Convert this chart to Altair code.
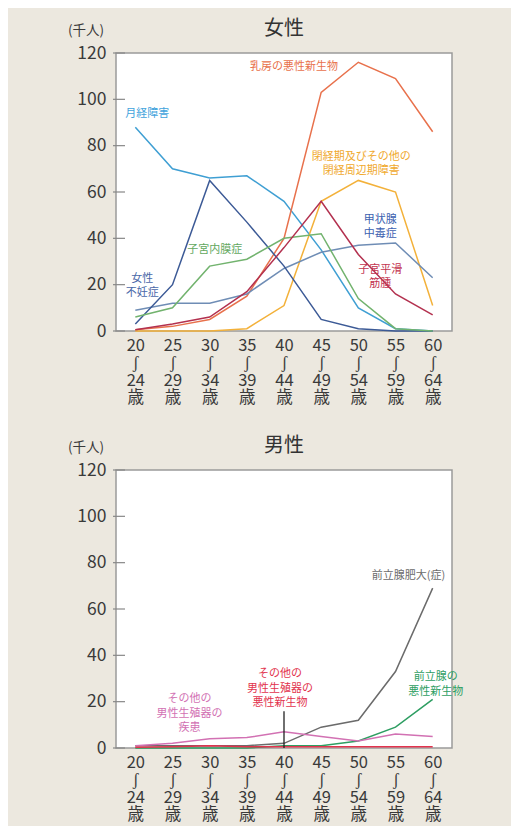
import altair as alt
import pandas as pd

ages = ["20-24", "25-29", "30-34", "35-39", "40-44", "45-49", "50-54", "55-59", "60-64"]
y_ticks = [0, 20, 40, 60, 80, 100, 120]

# Female series (thousand persons)
f_names = ["月経障害", "乳房の悪性新生物", "閉経期及びその他の閉経周辺期障害", "甲状腺中毒症",
           "女性不妊症", "子宮内膜症", "子宮平滑筋腫"]
f_menstrual = [88, 70, 66, 67, 56, 35, 10, 1, 0]
f_breast = [0.5, 2, 5, 15, 40, 103, 116, 109, 86]
f_menopause = [0, 0, 0, 1, 11, 56, 65, 60, 11]
f_thyroid = [9, 12, 12, 16, 27, 34, 37, 38, 23]
f_infertility = [3, 20, 65, 47, 28, 5, 1, 0, 0]
f_endometriosis = [6, 10, 28, 31, 40, 42, 14, 1, 0]
f_myoma = [0.5, 3, 6, 17, 36, 56, 33, 16, 7]
f_colors = ["#3f9fd3", "#e8714c", "#f3b13a", "#6f8db5", "#3c5a96", "#72b36e", "#b3314f"]

# Male series
m_names = ["前立腺肥大(症)", "前立腺の悪性新生物", "その他の男性生殖器の疾患", "その他の男性生殖器の悪性新生物"]
m_bph = [1, 1, 1, 1, 2, 9, 12, 33, 69]
m_prostate_cancer = [0, 0, 0, 0, 1, 1, 3, 9, 21]
m_other_disease = [1, 2, 4, 4.5, 7, 5, 3, 6, 5]
m_other_cancer = [0.3, 0.5, 1, 0.5, 0.5, 0.5, 0.5, 0.5, 0.5]
m_colors = ["#6b6b6b", "#2e9e62", "#d271b3", "#e2334d"]

# Annotation labels: text, anchor category, anchor value (first line), horizontal nudge, colour
f_labels = [
    ("乳房の悪性新生物", "40-44", 113.9, 10, "#e8714c"),
    ("月経障害", "20-24", 93.5, 12, "#3fa3dc"),
    ("閉経期及びその他の\n閉経周辺期障害", "50-54", 75.3, 3, "#f0a92e"),
    ("甲状腺\n中毒症", "50-54", 48, 22, "#3d5fb0"),
    ("子宮平滑\n筋腫", "50-54", 26.4, 22, "#c2324f"),
    ("子宮内膜症", "30-34", 35, 5, "#62a860"),
    ("女性\n不妊症", "20-24", 22.5, 7, "#4a68a8"),
]
m_labels = [
    ("前立腺肥大(症)", "55-59", 74.3, 13, "#6b6b6b"),
    ("前立腺の\n悪性新生物", "60-64", 30.5, 3, "#2e9e62"),
    ("その他の\n男性生殖器の\n悪性新生物", "40-44", 31.8, -4, "#e2334d"),
    ("その他の\n男性生殖器の\n疾患", "25-29", 21, 17, "#d271b3"),
]
m_leader = [("40-44", 0, 15.9)]

FONT = "Noto Sans CJK JP"
W, H = 336, 278


def long_df(names, series):
    rows = []
    for n, vals in zip(names, series):
        for a, v in zip(ages, vals):
            rows.append({"series": n, "age": a, "value": v})
    return pd.DataFrame(rows)


def panel(title, names, series, colors, labels, leader=None):
    df = long_df(names, series)
    x = alt.X("age:N", sort=ages, scale=alt.Scale(type="point", padding=0.52),
              axis=alt.Axis(title=None, labelAngle=0, ticks=False, domain=False,
                            labelExpr="[split(datum.value,'-')[0], 'ʃ', split(datum.value,'-')[1], '歳']",
                            labelFontSize=16.5, labelLineHeight=17.5, labelColor="#3a3a3a",
                            labelPadding=6, labelFont=FONT))
    y = alt.Y("value:Q", scale=alt.Scale(domain=[0, 120], nice=False),
              axis=alt.Axis(values=y_ticks, title=None, ticks=False, domain=False, grid=False,
                            labelFontSize=17.5, labelColor="#3a3a3a", labelPadding=10, labelFont=FONT))
    lines = alt.Chart(df).mark_line(strokeWidth=1.5).encode(
        x=x, y=y,
        color=alt.Color("series:N", scale=alt.Scale(domain=names, range=colors), legend=None),
    )
    tick_df = pd.DataFrame({"t": y_ticks})
    ticks = alt.Chart(tick_df).mark_rule(color="#888888", strokeWidth=1.2).encode(
        y=alt.Y("t:Q"), x=alt.value(-3), x2=alt.value(9))
    head_df = pd.DataFrame({"title": [title], "unit": ["(千人)"]})
    head = alt.Chart(head_df).mark_text(fontSize=20, font=FONT, color="#333333",
                                        baseline="middle", align="center").encode(
        x=alt.value(W / 2), y=alt.value(-24), text="title:N")
    unit = alt.Chart(head_df).mark_text(fontSize=13.5, font=FONT, color="#3a3a3a",
                                        baseline="middle", align="center").encode(
        x=alt.value(-30), y=alt.value(-22), text="unit:N")
    layers = [lines, ticks, head, unit]
    for text, age, val, dx, col in labels:
        ldf = pd.DataFrame([{"age": age, "value": val, "text": text}])
        layers.append(alt.Chart(ldf).mark_text(
            dx=dx, fontSize=11, lineHeight=14.5, lineBreak="\n", color=col,
            font=FONT, baseline="middle", align="center").encode(
            x=alt.X("age:N", sort=ages), y=alt.Y("value:Q"), text="text:N"))
    if leader:
        for age, v0, v1 in leader:
            ldf = pd.DataFrame([{"age": age, "v0": v0, "v1": v1}])
            layers.append(alt.Chart(ldf).mark_rule(color="#222222", strokeWidth=1.3).encode(
                x=alt.X("age:N", sort=ages), y="v0:Q", y2="v1:Q"))
    return alt.layer(*layers).properties(width=W, height=H).resolve_scale(color="independent")


female = panel("女性", f_names,
               [f_menstrual, f_breast, f_menopause, f_thyroid, f_infertility, f_endometriosis, f_myoma],
               f_colors, f_labels)
male = panel("男性", m_names, [m_bph, m_prostate_cancer, m_other_disease, m_other_cancer],
             m_colors, m_labels, m_leader)

chart = alt.vconcat(female, male, spacing=28).resolve_scale(color="independent").properties(
    background="#ece8df",
    padding={"left": 59, "top": 10, "right": 47, "bottom": 2},
).configure_view(fill="white", stroke="#9a9a9a", strokeWidth=1.5)

chart.save("out.html", embed_options={"renderer": "svg", "actions": False})
